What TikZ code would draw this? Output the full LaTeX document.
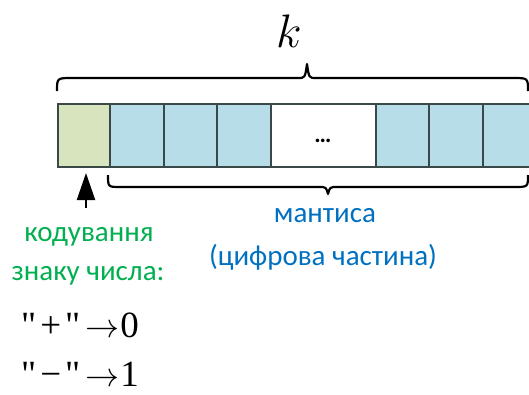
\RequirePackage{fix-cm}
\documentclass[tikz,border=0pt]{standalone}
\usepackage{fontspec}
\setmainfont{Liberation Serif}
\newfontfamily\calibrifont{Carlito}
\newfontfamily\formfont{Liberation Serif}[Ligatures=TeXOff]
\usetikzlibrary{arrows.meta}
\definecolor{signgreen}{HTML}{D7E4BD}
\definecolor{mantblue}{HTML}{B7DDE8}
\definecolor{cellborder}{HTML}{3B4848}
\definecolor{txtgreen}{HTML}{00B050}
\definecolor{txtblue}{HTML}{0070C0}
\newcommand{\formarrow}{{\fontsize{34}{36}\selectfont$\rightarrow$}}
\tikzset{
  cellbox/.style={draw=cellborder, line width=2pt},
  bracepath/.style={draw=black, line width=2.2pt, line join=round},
  greentext/.style={text=txtgreen, font=\calibrifont\fontsize{29}{39}\selectfont, inner sep=0pt, anchor=base},
  bluetext/.style={text=txtblue, font=\calibrifont\fontsize{29}{39}\selectfont, inner sep=0pt, anchor=base},
  formula/.style={font=\formfont\fontsize{37}{40}\selectfont, inner sep=0pt, anchor=base west},
}
\begin{document}
\begin{tikzpicture}[x=1pt, y=-1pt]
\useasboundingbox (0,0) rectangle (529,394);
\begin{scope}
\clip (0,0) rectangle (529,394);
% cells
\path[cellbox, fill=signgreen] (57.7,104) rectangle (110,167);
\path[cellbox, fill=mantblue] (110,104) rectangle (164,167);
\path[cellbox, fill=mantblue] (164,104) rectangle (216.7,167);
\path[cellbox, fill=mantblue] (216.7,104) rectangle (270.7,167);
\path[cellbox, fill=white] (270.7,104) rectangle (375.5,167);
\path[cellbox, fill=mantblue] (375.5,104) rectangle (428.5,167);
\path[cellbox, fill=mantblue] (428.5,104) rectangle (482.7,167);
\path[cellbox, fill=mantblue] (482.7,104) rectangle (540,167);
\node[inner sep=0pt, anchor=base, font=\calibrifont\bfseries\fontsize{24}{26}\selectfont] (dots) at (323,142) {…};
% top brace
\path[bracepath] (57,91) .. controls (57,78) .. (72,78) -- (298,78)
  .. controls (305,78) .. (307,64) .. controls (309,78) .. (316,78)
  -- (513,78) .. controls (528,78) .. (528,91);
% bottom brace
\path[bracepath] (108,175) .. controls (108,187) .. (120,187) -- (319,187)
  .. controls (326,187) .. (328,194) .. controls (330,187) .. (337,187)
  -- (514,187) .. controls (528,187) .. (528,175);
\end{scope}
% k
\node[inner sep=0pt, anchor=base, font=\fontsize{47}{50}\selectfont] (k) at (289,47) {$k$};
% arrow
\coordinate (atail) at (86,208);
\coordinate (atip) at (86,173);
\draw[line width=2pt, -{Triangle[length=27pt, width=18pt]}] (atail) -- (atip);
% green text
\node[greentext] (g1) at (89,241) {кодування};
\node[greentext] (g2) at (88,280) {знаку числа:};
% blue text
\node[bluetext] (b1) at (325,222) {мантиса};
\node[bluetext] (b2) at (323,265) {(цифрова частина)};
% formulas
\node[formula] (f1) at (21,337) {"\kern4pt+\kern4pt"\kern5pt\formarrow\kern1pt0};
\node[formula] (f2) at (21,386) {"\kern4pt−\kern4pt"\kern5pt\formarrow\kern1pt1};
\end{tikzpicture}
\end{document}
